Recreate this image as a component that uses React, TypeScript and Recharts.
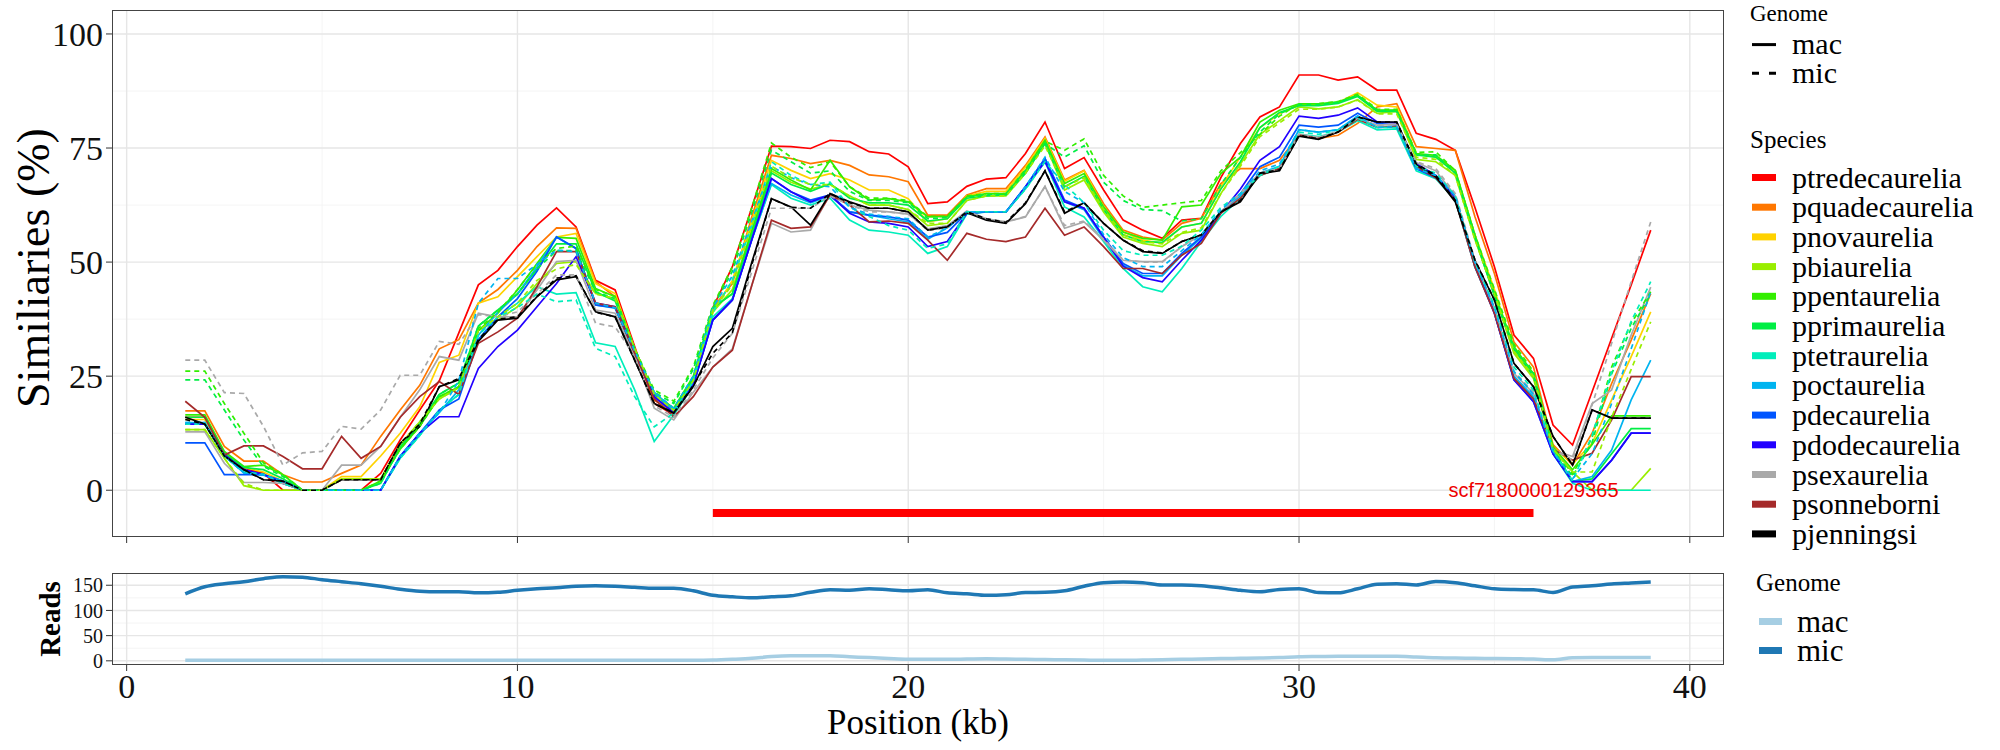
import React from "react";
import { LineChart, Line, XAxis, YAxis, CartesianGrid, ReferenceLine, ReferenceDot } from "recharts";

// positions (kb), one window every 0.5 kb
const positions = [
  1.5, 2, 2.5, 3, 3.5, 4, 4.5, 5, 5.5, 6, 6.5, 7, 7.5, 8, 8.5,
  9, 9.5, 10, 10.5, 11, 11.5, 12, 12.5, 13, 13.5, 14, 14.5,
  15, 15.5, 16, 16.5, 17, 17.5, 18, 18.5, 19, 19.5, 20, 20.5, 21, 21.5,
  22, 22.5, 23, 23.5, 24, 24.5, 25, 25.5, 26, 26.5, 27, 27.5, 28, 28.5,
  29, 29.5, 30, 30.5, 31, 31.5, 32, 32.5, 33, 33.5, 34, 34.5,
  35, 35.5, 36, 36.5, 37, 37.5, 38, 38.5, 39,
];

// similarity (%) per species, mac genome
const ptredecaureliaMac = [
  16, 16, 8, 4.8, 3.7, 0, 0, 0, 0, 0, 3.7, 11, 17.6, 24, 34.5,
  45, 48.2, 53.4, 58.1, 61.9, 57.7, 46, 43.9, 31.5, 19, 16.5, 23.5,
  40, 49, 62, 75.4, 75.3, 74.9, 76.7, 76.4, 74.2, 73.7, 70.9, 62.8, 63.2, 66.6,
  68.2, 68.5, 73.8, 80.7, 70.5, 72.9, 65.8, 59.2, 57, 55.2, 59.2, 59.6, 68.5, 76,
  81.8, 84, 91, 91, 89.9, 90.6, 87.7, 87.7, 78.2, 76.9, 74.5, 62,
  49, 34, 28.9, 14.3, 9.9, 21.6, 33.3, 45, 57,
];
const pquadecaureliaMac = [
  17.4, 17.4, 9.6, 6.4, 6.4, 3.4, 1.8, 1.8, 3.7, 5.5, 11.8, 17.6, 23, 31, 33,
  41, 44, 48.2, 53.4, 57.5, 57.4, 45.7, 42.4, 30.7, 19.8, 16.9, 24,
  40, 45.3, 60, 73.4, 72.7, 71.6, 72.3, 71.2, 69.1, 68.7, 67.6, 60.3, 60.3, 64.7,
  66.1, 66.1, 71.2, 77.4, 68, 70.1, 62.8, 57, 55.5, 54.8, 58.5, 59.6, 67.2, 70.5,
  70.5, 72.3, 77.8, 77.1, 77.8, 80.4, 84, 84.7, 75.3, 74.9, 74.5, 60,
  47.5, 32.5, 27, 10, 5.5, 12.5, 23.4, 32.9, 43.1,
];
const pnovaureliaMac = [
  15.5, 15.5, 8, 5, 4, 2, 0, 0, 3, 3, 7.5, 12.5, 18.3, 28, 29.6,
  41, 42.4, 46.8, 51.2, 55.5, 56.3, 45.3, 43.1, 31, 20, 17.5, 24,
  39, 46, 59, 72.3, 70.1, 68.3, 69.4, 68, 65.8, 65.8, 63.9, 58.8, 59.5, 64.5,
  65.5, 65.5, 70.8, 77.1, 67.7, 70, 62, 56.6, 54.8, 54.1, 57.7, 58.5, 66.5, 73,
  79.5, 82.5, 84.5, 84.5, 85, 87.1, 84.4, 84, 73.8, 73, 70, 56,
  44, 30.5, 25, 9.5, 5.8, 10.3, 19.8, 29.3, 39.1,
];
const pbiaureliaMac = [
  13.3, 13.3, 7, 1, 0, 0, 0, 0, 2.5, 2.5, 2.5, 10, 15, 20, 22.5,
  35, 37.3, 40.2, 45.3, 49.7, 50.1, 43.1, 42, 31, 21, 17.5, 24,
  39, 44, 57, 70, 67.5, 66, 67, 64.5, 62.5, 62.5, 61.5, 58, 58.5, 63.5,
  64.5, 64.5, 69.5, 76, 65.8, 68, 61, 55.5, 54.1, 53.4, 56.3, 57, 65, 71.5,
  78, 81, 84, 83.6, 84, 85.6, 82.6, 83, 72.5, 72, 69, 55,
  43, 30, 24.5, 9, 4, 0, 0, 0, 4.8,
];
const ppentaureliaMac = [
  16.5, 16.5, 8.5, 5.2, 5.5, 3.4, 0, 0, 0, 0, 2, 9, 14, 20.5, 22.7,
  35, 38.8, 43.9, 49.7, 55.4, 55.2, 44.2, 42.4, 30.7, 21.2, 18, 25,
  40, 43.1, 57, 70.5, 68, 65.8, 72.3, 66.5, 63.6, 63.9, 63.2, 59.9, 60, 64.3,
  65, 65, 70.1, 76.7, 67.2, 69.4, 62.1, 56.6, 55.2, 54.8, 62.1, 62.5, 69.4, 73,
  80.7, 83.3, 84.7, 84.7, 85.1, 86.6, 83.3, 83.3, 73.8, 73.4, 70.1, 56,
  43.1, 31.5, 25.5, 9.5, 4.5, 10, 16.3, 16.3, 16.3,
];
const pprimaureliaMac = [
  16, 16, 8, 5, 4.5, 2.5, 0, 0, 0, 0, 1.5, 9.5, 14.5, 21, 23.5,
  36, 39.5, 43, 48.5, 54, 54, 43.5, 41.5, 30.5, 21, 17.8, 24.5,
  40, 43, 56, 69.5, 67, 65.5, 67.2, 64, 63, 63, 62.5, 59, 59.5, 64,
  64.5, 64.8, 69.5, 76, 66.5, 68.8, 61.5, 56, 54.5, 54.3, 57.7, 58.5, 66, 72,
  79.5, 82.8, 84.3, 84.3, 84.8, 86.3, 83, 83, 73.5, 73, 69.5, 55.5,
  42.5, 31, 25, 9, 2, 2.5, 8, 13.5, 13.5,
];
const ptetraureliaMac = [
  14.5, 14.5, 7.5, 4, 3.5, 1.5, 0, 0, 0, 0, 0, 7, 12, 17.5, 21,
  33, 38, 41, 44.6, 43, 43.3, 32.3, 31.5, 22, 10.7, 16.5, 23,
  38, 42, 55, 67, 64, 62.5, 64, 59.2, 57, 56.6, 55.9, 51.9, 53.4, 60.5,
  61, 61, 66, 72, 62.1, 59.9, 54.5, 48.6, 44.6, 43.5, 48.6, 54.5, 60, 64,
  69, 70.5, 78, 77.5, 78.5, 81, 79, 79.2, 70, 68.3, 63.5, 49,
  39, 24.5, 20.5, 8, 1.5, 0, 0, 0, 0,
];
const poctaureliaMac = [
  14.8, 14.8, 7.5, 3.8, 3.3, 2, 0, 0, 0, 0, 0, 7.5, 12.5, 17, 22,
  34, 39, 43, 49, 55.5, 53, 40.6, 39.9, 30, 21.5, 17.5, 23.5,
  37.3, 41.7, 55, 67.2, 64.7, 63, 64.5, 61, 60.3, 59.5, 58.8, 55, 57.5, 61,
  61, 61, 66.5, 72.7, 63.2, 61.5, 55, 49.3, 47, 47, 51.5, 55.3, 61, 64.5,
  69.5, 71, 79, 78.5, 79, 82, 79.5, 79.7, 70.5, 68.5, 64, 49.5,
  39.5, 25, 20.5, 8.5, 1.9, 3, 8.8, 19.8, 28.5,
];
const pdecaureliaMac = [
  10.4, 10.4, 3.4, 3.4, 3.4, 2, 0, 0, 0, 0, 0, 7.4, 12.5, 17.6, 20,
  33, 38, 42, 48, 55.5, 53, 40.6, 40, 30, 20.5, 17, 23,
  37.3, 41.7, 55, 68.3, 65.4, 63.6, 64.7, 61, 60.3, 59.9, 59.2, 55.5, 56.5, 60.8,
  61, 61, 66.5, 72.7, 63.6, 61.8, 55.5, 49.7, 47.5, 47.5, 51.9, 55.5, 61, 65,
  70.9, 73, 80, 79.6, 80, 82.6, 80.4, 80, 70.5, 68.5, 63.8, 49,
  38.8, 24.2, 19.4, 8, 1.9, 1.9, 6.6, 12.5, 12.5,
];
const pdodecaureliaMac = [
  14.5, 14.5, 7.8, 4.5, 3.5, 1.5, 0, 0, 0, 0, 0, 7.4, 12.5, 16.1, 16.1,
  26.7, 31.5, 35.1, 40.2, 45.3, 51.2, 41, 40.2, 30.7, 20.5, 17, 23,
  37.3, 41.7, 55, 68.3, 65.4, 63.2, 64.7, 60.7, 58.8, 58.5, 57.7, 53.4, 54.5, 60.7,
  61, 61, 66.5, 72, 63.2, 61.8, 55.5, 49.1, 46.6, 45.7, 50.4, 54.8, 60.7, 66,
  72.3, 75.3, 82, 81.5, 82.2, 83.8, 80.7, 80.5, 71.6, 69, 64.3, 49.5,
  38.8, 24.2, 19.4, 8, 1.9, 1.9, 6.6, 12.5, 12.5,
];
const psexaureliaMac = [
  12.8, 12.8, 5.9, 1.7, 1.7, 1.5, 0, 0, 5.5, 5.5, 9.6, 16, 22, 29.3, 28.5,
  38.8, 38, 38, 43.9, 50.1, 50.4, 39.5, 38.8, 29.3, 18, 15.4, 21.5,
  27, 31, 45, 58.5, 56.6, 57, 65, 62.5, 61.4, 61, 60.5, 57.3, 58, 61.2,
  59.5, 58.8, 59.9, 66.6, 57.4, 58.8, 54.8, 50.4, 50.1, 50.1, 53.4, 56, 61, 65,
  69.5, 70.5, 78, 77.3, 78.5, 81.5, 80, 80.2, 71.8, 70, 64.5, 50,
  40, 25.6, 21.2, 8.8, 7.4, 19, 22, 34, 44.5,
];
const psonneborniMac = [
  19.5, 16, 7.7, 9.7, 9.7, 7.4, 4.7, 4.7, 11.8, 7, 9.6, 16, 20.5, 23.8, 21,
  32.2, 34.7, 37.7, 44.6, 52.3, 52.3, 41, 40.2, 30, 20, 16.1, 20.5,
  27, 30.7, 45, 59.2, 57.4, 57.7, 64.7, 62.5, 58.8, 59, 58.5, 54.8, 50.4, 56.3,
  55, 54.5, 55.5, 61.8, 55.9, 57.7, 53.4, 48.6, 48.6, 47.5, 51.5, 54.1, 60.7, 64,
  69, 70.5, 77.8, 77.1, 78.5, 81.3, 79.5, 79.7, 71, 68.5, 63.5, 49,
  38.8, 24.5, 20, 9, 6.6, 8.1, 15.4, 24.9, 24.9,
];
const pjenningsiMac = [
  16, 14.5, 7.5, 4.5, 2.3, 2, 0, 0, 2.3, 2.3, 2.3, 10.3, 14, 22.7, 24.2,
  32.6, 37.3, 37.7, 42.4, 46.1, 46.8, 39.1, 38, 28.5, 19, 16.9, 22.7,
  31.5, 35.5, 50, 63.9, 62.1, 58.1, 65, 63.2, 61.8, 61.8, 61, 57, 57.7, 60.8,
  59.2, 58.5, 62.8, 70, 60.7, 63, 58.5, 54.8, 52.3, 51.9, 54.5, 55.9, 61, 63.2,
  69.4, 70, 77.6, 76.9, 78.5, 81.8, 80.7, 80.7, 71.3, 68.7, 63.2, 50.4,
  41.7, 27.8, 22.7, 11.8, 5.5, 17.6, 15.8, 15.8, 15.8,
];

// similarity (%) per species, mic genome
const psexaureliaMic = [
  28.5, 28.5, 21.4, 21.2, 14, 5.5, 8.2, 8.5, 14, 13.4, 17.6, 25.2, 25.2, 32.6, 32,
  38.5, 38, 39.1, 43, 47.2, 47.2, 36.6, 35.8, 29.3, 18.5, 16, 22,
  29, 34.4, 48, 61.8, 61.8, 61.8, 64.5, 62.5, 61, 61, 60.5, 57, 57.5, 61,
  59.5, 58.8, 60, 66.5, 58, 59, 55, 50.5, 50, 50, 53.4, 56, 61, 65,
  69.5, 70.5, 78, 77.3, 78.7, 81.5, 80, 80.2, 72, 70.5, 65, 50.5,
  40, 26, 21.5, 9, 6.6, 18.7, 32.2, 45.7, 58.8,
];
const ppentaureliaMic = [
  26.1, 26.1, 19, 12.5, 6, 3.5, 0, 0, 0, 0, 2, 9, 14, 20.5, 22.7,
  35.5, 39, 44, 49.5, 53, 53.5, 44, 42.5, 31, 22, 19.5, 27,
  40.5, 49, 62, 76.1, 73, 70.7, 72, 66.5, 64, 64, 63.5, 60, 60, 64.5,
  65, 65, 70.3, 76.5, 74.5, 77, 69, 64.5, 62, 62.5, 63, 63.5, 70, 74,
  78, 82, 84.7, 84.7, 85.2, 86.8, 83.5, 83.5, 74, 74.2, 70, 56,
  44, 32, 26, 9.5, 3.5, 11.5, 27, 36.6, 43.5,
];
const pprimaureliaMic = [
  24.2, 24.2, 17.6, 11, 5.2, 3, 0, 0, 0, 0, 1.5, 9.5, 14.5, 21, 23.5,
  36, 39.5, 43, 48.5, 52.5, 52.5, 43.5, 42, 31, 21.5, 19, 26.5,
  40, 48, 61, 74.5, 72, 69.5, 70, 65.5, 63.5, 63.5, 63, 59.5, 59.8, 64.2,
  64.8, 64.8, 70, 76, 73, 75.5, 67.5, 63.5, 61.5, 61.3, 59, 59.5, 67, 73,
  78.5, 82.5, 84.5, 84.5, 85, 86.5, 83.2, 83.2, 73.5, 73.5, 69.5, 55.5,
  43, 31, 25.5, 9, 3, 10.5, 25.5, 35.5, 43,
];
const ptetraureliaMic = [
  14.5, 14.5, 7.5, 4, 3.5, 1.5, 0, 0, 0, 0, 0, 7, 12, 17.5, 21,
  34, 38, 40, 43, 41.3, 41.7, 31.1, 29.3, 20.5, 13.9, 16.9, 24,
  39, 46, 58, 72, 69, 67, 67.5, 62, 60, 58, 57, 53, 54, 61,
  61, 61, 66, 72, 67, 63, 57, 52.5, 51.5, 51.5, 53.5, 57, 62, 65,
  69, 71, 78.5, 78, 79, 81.5, 79.5, 79.5, 71, 69.5, 64.5, 50,
  40.5, 27, 22, 8.5, 2, 12, 26, 37, 45.7,
];
const poctaureliaMic = [
  14.8, 14.8, 7.5, 3.8, 3.3, 2, 0, 0, 0, 0, 0, 7.5, 12.5, 17, 24,
  41, 46.4, 46.4, 49.5, 52.6, 52.3, 41, 40, 30.5, 21.5, 18, 25,
  40, 47, 59, 71, 68.5, 67, 66.5, 62, 60.5, 60, 59.5, 55.5, 57.5, 61,
  61, 61, 66.5, 73, 65.5, 63, 56, 51, 49, 49, 52.5, 56, 61.5, 65,
  70, 71.5, 79, 78.5, 79, 82, 79.5, 79.7, 70.5, 69, 64.5, 50,
  40, 26, 21, 8.5, 2.5, 8, 19, 31, 43.5,
];
const pbiaureliaMic = [
  13.3, 13.3, 7, 1.5, 0, 0, 0, 0, 2.5, 2.5, 2.5, 10, 15, 20, 22.5,
  35, 38, 41, 46, 48.5, 49.5, 43, 42, 31, 21, 17.5, 24,
  39.5, 45, 58, 71, 68.5, 67, 67, 64.5, 62.5, 62.5, 61.5, 58.5, 58.5, 63.5,
  64.5, 64.5, 69.5, 75.5, 66.5, 68.5, 61.5, 56, 54.5, 54, 56.5, 57.5, 65, 71,
  77.5, 80.5, 83.5, 83.5, 84, 85.5, 82.5, 82.5, 73, 72.5, 69, 55,
  43, 30.5, 25, 9, 4, 4, 16, 26.5, 36.9,
];
const pjenningsiMic = [
  15.5, 14.5, 7.5, 4.5, 2.3, 2, 0, 0, 2.3, 2.3, 2.3, 10.3, 14.5, 22.7, 24.5,
  33, 37.5, 38, 42.5, 46.5, 47, 39, 38, 28.5, 19, 17, 23,
  30, 34.5, 49.5, 63.9, 62, 61.8, 65, 63, 61.8, 61.8, 61, 57, 57.7, 61,
  59.5, 58.7, 63, 70, 61, 63, 58.5, 54.8, 52.5, 52, 54.5, 56, 61, 63.5,
  69.5, 70.2, 77.8, 77, 78.5, 81.8, 80.7, 80.7, 71.5, 69, 63.5, 50.5,
  41.7, 27.8, 22.7, 11.8, 5.5, 17.6, 15.8, 15.8, 15.8,
];

// read depth
const readsMac = [
  1, 1, 1, 1, 1, 1, 1, 1, 1, 1, 1, 1, 1, 1, 1,
  1, 1, 1, 1, 1, 1, 1, 1, 1, 1, 1, 1,
  1.5, 3, 5, 8.5, 10, 10, 10, 8, 6.5, 4.5, 3, 3, 3, 3.5,
  4, 3.5, 3, 2.5, 2, 1.5, 1, 1, 1.5, 2, 3, 3.5, 4.5, 5,
  5.5, 6.5, 8, 8.5, 9, 9, 9, 9, 7.5, 6, 5.5, 5,
  4.5, 4, 3.5, 2, 6, 6.5, 6.5, 6.5, 6.5,
];
const readsMic = [
  133, 147, 153, 157, 163, 167, 166, 161, 157, 153, 148, 142, 138, 137, 137,
  135, 136, 140, 143, 145, 148, 149, 148, 146, 144, 144, 139,
  130, 127, 125, 127, 129, 136, 141, 140, 143, 141, 139, 141, 135, 133,
  130, 131, 135.5, 136, 139, 148, 155, 156.5, 155, 150.5, 150.5, 149, 145, 140,
  137, 141.5, 143, 135.5, 135, 143, 152, 153, 150.5, 157.5, 155, 149,
  143, 141.5, 141, 135.5, 146.5, 149, 152.5, 154.5, 156.5,
];

const species = [
  "ptredecaurelia", "pquadecaurelia", "pnovaurelia", "pbiaurelia", "ppentaurelia",
  "pprimaurelia", "ptetraurelia", "poctaurelia", "pdecaurelia", "pdodecaurelia",
  "psexaurelia", "psonneborni", "pjenningsi",
];
const speciesColors = [
  "#ff0000", "#ff7700", "#ffd200", "#99ee00", "#33ee00",
  "#00ee44", "#00eebb", "#00b4f0", "#0055ff", "#2200ff",
  "#a9a9a9", "#a52a2a", "#000000",
];
const macValues = [
  ptredecaureliaMac, pquadecaureliaMac, pnovaureliaMac, pbiaureliaMac, ppentaureliaMac,
  pprimaureliaMac, ptetraureliaMac, poctaureliaMac, pdecaureliaMac, pdodecaureliaMac,
  psexaureliaMac, psonneborniMac, pjenningsiMac,
];
const micSpecies = ["psexaurelia", "ppentaurelia", "pprimaurelia", "ptetraurelia", "poctaurelia", "pbiaurelia", "pjenningsi"];
const micValues = [psexaureliaMic, ppentaureliaMic, pprimaureliaMic, ptetraureliaMic, poctaureliaMic, pbiaureliaMic, pjenningsiMic];

const contigName = "scf7180000129365";
const contigStart = 15;
const contigEnd = 36;
const contigY = -5;

const simRows = positions.map((x, i) => {
  const row: Record<string, number> = { x };
  species.forEach((s, k) => { row[s + "_mac"] = macValues[k][i]; });
  micSpecies.forEach((s, k) => { row[s + "_mic"] = micValues[k][i]; });
  return row;
});
const readRows = positions.map((x, i) => ({ x, mac: readsMac[i], mic: readsMic[i] }));

const serif = '"Liberation Serif", "DejaVu Serif", serif';
const sans = '"Liberation Sans", Arial, sans-serif';
const xDomain: [number, number] = [-0.375, 40.875];
const xTicks = [0, 10, 20, 30, 40];
const xMinor = [5, 15, 25, 35];

const Border = ({ left, top, width, height }: { left: number; top: number; width: number; height: number }) => (
  <div style={{ position: "absolute", left, top, width, height, border: "1.3px solid #444", boxSizing: "border-box", pointerEvents: "none" }} />
);

export default function App() {
  return (
    <div style={{ position: "absolute", left: 0, top: 0, width: 2000, height: 750, background: "#fff", overflow: "hidden" }}>
      <div style={{ position: "absolute", left: 0, top: 0 }}>
        <LineChart width={1740} height={560} data={simRows} margin={{ top: 10, right: 16, left: 0, bottom: 0 }}>
          <CartesianGrid stroke="#f1f1f1" strokeWidth={0.8} horizontalValues={[12.5, 37.5, 62.5, 87.5]} verticalValues={xMinor} />
          <CartesianGrid stroke="#e6e6e6" strokeWidth={1.4} horizontalValues={[0, 25, 50, 75, 100]} verticalValues={xTicks} />
          <XAxis type="number" dataKey="x" domain={xDomain} ticks={xTicks} interval={0} allowDataOverflow
            tickFormatter={() => ""} axisLine={false} tickLine={{ stroke: "#333" }} tickSize={6} height={23} />
          <YAxis type="number" domain={[-10.25, 105.25]} ticks={[0, 25, 50, 75, 100]} interval={0} allowDataOverflow
            width={112} axisLine={false} tickLine={{ stroke: "#333" }} tickSize={6} tickMargin={3}
            tick={{ fill: "#111", fontSize: 34, fontFamily: serif }} />
          {species.map((s, k) => (
            <Line key={s + "_mac"} type="linear" dataKey={s + "_mac"} stroke={speciesColors[k]} strokeWidth={1.7}
              dot={false} isAnimationActive={false} />
          ))}
          {micSpecies.map((s) => (
            <Line key={s + "_mic"} type="linear" dataKey={s + "_mic"} stroke={speciesColors[species.indexOf(s)]}
              strokeWidth={1.7} strokeDasharray="5 4" dot={false} isAnimationActive={false} />
          ))}
          <ReferenceLine segment={[{ x: contigStart, y: contigY }, { x: contigEnd, y: contigY }]} stroke="#ff0000" strokeWidth={8} />
          <ReferenceDot x={contigEnd} y={0} r={0} fill="none" stroke="none"
            label={{ value: contigName, position: "center", fill: "#ee0000", fontSize: 20, fontFamily: sans }} />
        </LineChart>
      </div>
      <Border left={112} top={10} width={1612} height={527} />

      <div style={{ position: "absolute", left: 0, top: 563 }}>
        <LineChart width={1740} height={150} data={readRows} margin={{ top: 10, right: 16, left: 0, bottom: 0 }}>
          <CartesianGrid stroke="#f1f1f1" strokeWidth={0.8} horizontalValues={[25, 75, 125]} verticalValues={xMinor} />
          <CartesianGrid stroke="#e6e6e6" strokeWidth={1.4} horizontalValues={[0, 50, 100, 150]} verticalValues={xTicks} />
          <XAxis type="number" dataKey="x" domain={xDomain} ticks={xTicks} interval={0} allowDataOverflow
            axisLine={false} tickLine={{ stroke: "#333" }} tickSize={6} tickMargin={3} height={48}
            tick={{ fill: "#111", fontSize: 34, fontFamily: serif }} />
          <YAxis type="number" domain={[-8.3, 174.3]} ticks={[0, 50, 100, 150]} interval={0} allowDataOverflow
            width={112} axisLine={false} tickLine={{ stroke: "#333" }} tickSize={6} tickMargin={3}
            tick={{ fill: "#111", fontSize: 20, fontFamily: serif }} />
          <Line type="monotone" dataKey="mac" stroke="#a6cee3" strokeWidth={3.5} dot={false} isAnimationActive={false} />
          <Line type="monotone" dataKey="mic" stroke="#1f78b4" strokeWidth={3.5} dot={false} isAnimationActive={false} />
        </LineChart>
      </div>
      <Border left={112} top={573} width={1612} height={92} />

      <svg width={2000} height={750} style={{ position: "absolute", left: 0, top: 0, pointerEvents: "none" }}>
        <g fontFamily={serif} fill="#000">
          <text transform="translate(33,268) rotate(-90)" textAnchor="middle" dominantBaseline="central" fontSize={46}>Similiaries (%)</text>
          <text transform="translate(50,619) rotate(-90)" textAnchor="middle" dominantBaseline="central" fontSize={29} fontWeight="bold">Reads</text>
          <text x={918} y={722} textAnchor="middle" dominantBaseline="central" fontSize={35}>Position (kb)</text>

          <text x={1750} y={21} fontSize={23}>Genome</text>
          <line x1={1752} x2={1776} y1={44.6} y2={44.6} stroke="#000" strokeWidth={3} />
          <line x1={1752} x2={1776} y1={73.2} y2={73.2} stroke="#000" strokeWidth={3} strokeDasharray="7 10" />
          <text x={1792} y={54} fontSize={30}>mac</text>
          <text x={1792} y={83} fontSize={30}>mic</text>

          <text x={1750} y={147.5} fontSize={25}>Species</text>
          {species.map((s, k) => {
            const cy = 177.5 + k * 29.7;
            return (
              <g key={s}>
                <rect x={1752} y={cy - 3.5} width={24} height={7} fill={speciesColors[k]} />
                <text x={1792} y={cy + 10} fontSize={30}>{s}</text>
              </g>
            );
          })}

          <text x={1756} y={591} fontSize={25}>Genome</text>
          <rect x={1759} y={618} width={23} height={7} fill="#a6cee3" />
          <rect x={1759} y={647} width={23} height={7} fill="#1f78b4" />
          <text x={1797} y={632} fontSize={31}>mac</text>
          <text x={1797} y={661} fontSize={31}>mic</text>
        </g>
      </svg>
    </div>
  );
}
